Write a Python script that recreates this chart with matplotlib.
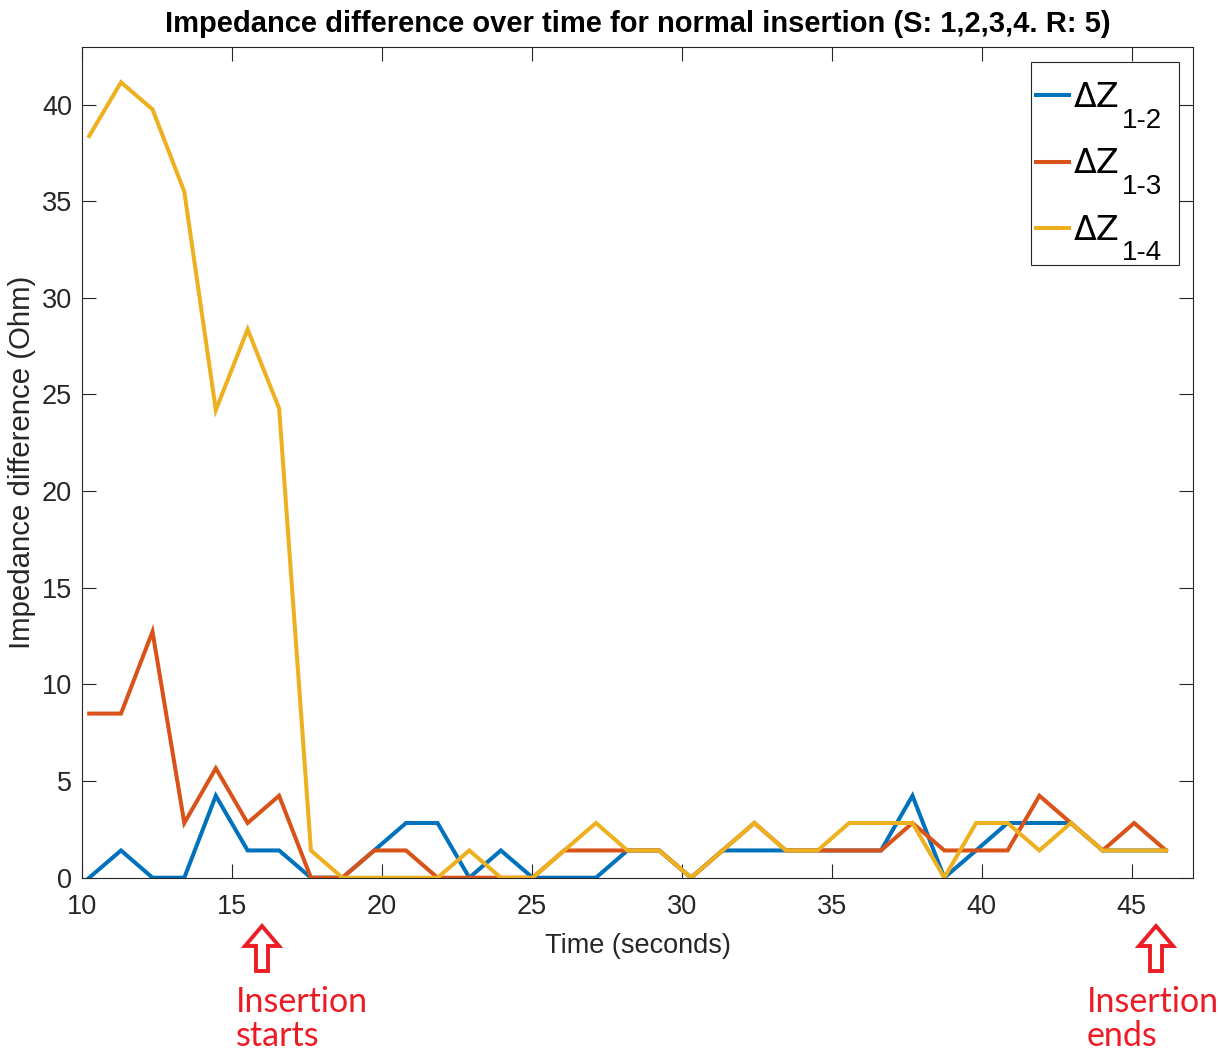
import matplotlib
matplotlib.use("Agg")
import matplotlib.pyplot as plt
from matplotlib.patches import Polygon, Rectangle

plt.rcParams['font.family'] = ['Liberation Sans', 'DejaVu Sans']

# ---------------- data ----------------
time_s = [10.25, 11.31, 12.36, 13.42, 14.47, 15.53, 16.58, 17.64, 18.69, 19.75,
          20.81, 21.86, 22.92, 23.97, 25.03, 26.08, 27.14, 28.19, 29.25, 30.31,
          31.36, 32.42, 33.47, 34.53, 35.58, 36.64, 37.69, 38.75, 39.81, 40.86,
          41.92, 42.97, 44.03, 45.08, 46.14]

dz_12 = [0, 1.41, 0, 0, 4.24, 1.41, 1.41, 0, 0, 1.41,
         2.83, 2.83, 0, 1.41, 0, 0, 0, 1.41, 1.41, 0,
         1.41, 1.41, 1.41, 1.41, 1.41, 1.41, 4.24, 0, 1.41, 2.83,
         2.83, 2.83, 1.41, 1.41, 1.41]

dz_13 = [8.49, 8.49, 12.73, 2.83, 5.66, 2.83, 4.24, 0, 0, 1.41,
         1.41, 0, 0, 0, 0, 1.41, 1.41, 1.41, 1.41, 0,
         1.41, 2.83, 1.41, 1.41, 1.41, 1.41, 2.83, 1.41, 1.41, 1.41,
         4.24, 2.83, 1.41, 2.83, 1.41]

dz_14 = [38.37, 41.15, 39.75, 35.49, 24.19, 28.37, 24.28, 1.41, 0, 0,
         0, 0, 1.41, 0, 0, 1.41, 2.83, 1.41, 1.41, 0,
         1.41, 2.83, 1.41, 1.41, 2.83, 2.83, 2.83, 0, 2.83, 2.83,
         1.41, 2.83, 1.41, 1.41, 1.41]

label_main = 'ΔZ'
label_subs = ['1-2', '1-3', '1-4']
colors = ['#0072BD', '#D95319', '#EDB120']
x_ticks = [10, 15, 20, 25, 30, 35, 40, 45]
y_ticks = [0, 5, 10, 15, 20, 25, 30, 35, 40]

# ---------------- figure ----------------
W, H = 1218, 1054
fig = plt.figure(figsize=(W / 100, H / 100), dpi=100)
ax = fig.add_axes([81.7 / W, 1 - 877.7 / H, (1193.3 - 81.7) / W, (877.7 - 47.3) / H])

handles = []
for series, c in zip([dz_12, dz_13, dz_14], colors):
    h, = ax.plot(time_s, series, color=c, lw=2.9, solid_joinstyle='miter')
    handles.append(h)

ax.set_xlim(10, 47.05)
ax.set_ylim(0, 42.96)
ax.set_xticks(x_ticks)
ax.set_yticks(y_ticks)

axc = '#262626'
for s in ax.spines.values():
    s.set_color(axc)
    s.set_linewidth(0.8)
ax.tick_params(direction='in', length=10, width=0.8, color=axc,
               top=True, right=True, labelsize=19.5, labelcolor=axc)
ax.tick_params(axis='x', pad=12)
ax.tick_params(axis='y', pad=7)

ax.set_xlabel('Time (seconds)', fontsize=19.5, color=axc, labelpad=9)
ax.set_ylabel('Impedance difference (Ohm)', fontsize=21.2, color=axc, labelpad=4)
ax.set_title('Impedance difference over time for normal insertion (S: 1,2,3,4. R: 5)',
             fontsize=21, fontweight='bold', pad=11)

# legend: handles + "ΔZ", subscripts added afterwards, frame drawn as box
leg_size = 24
leg = ax.legend(handles, [label_main] * 3, loc='upper left',
                bbox_to_anchor=(1021 / W, 1 - 66 / H), bbox_transform=fig.transFigure,
                prop={'family': 'DejaVu Sans', 'size': leg_size}, frameon=False,
                handlelength=1.0, handletextpad=0.12,
                borderaxespad=0, borderpad=0.45, labelspacing=1.0)
leg.set_zorder(6)
box = Rectangle((1031 / W, 1 - 265 / H), (1179.3 - 1031) / W, (265 - 61.7) / H,
                transform=fig.transFigure, facecolor='white',
                edgecolor=axc, lw=0.8, zorder=5, clip_on=False)
ax.add_patch(box)

fig.canvas.draw()
inv = fig.transFigure.inverted()
for t, sub in zip(leg.get_texts(), label_subs):
    bb = t.get_window_extent()
    x_px = bb.x1 + 3
    y_top = bb.y0 + 0.236 * leg_size * 100 / 72 - 1.5
    fx, fy = inv.transform((x_px, y_top))
    fig.text(fx, fy, sub, fontsize=20, color='black', ha='left', va='top', zorder=7)

# ---------------- annotations (red hollow arrows + text) ----------------
red = '#ED1C24'

def up_arrow(cx, top, bottom, head_w=34, head_h=20, shaft_w=12):
    pts = [(cx, top), (cx + head_w / 2, top + head_h), (cx + shaft_w / 2, top + head_h),
           (cx + shaft_w / 2, bottom), (cx - shaft_w / 2, bottom),
           (cx - shaft_w / 2, top + head_h), (cx - head_w / 2, top + head_h)]
    pts = [(x / W, 1 - y / H) for x, y in pts]
    fig.patches.append(Polygon(pts, closed=True, transform=fig.transFigure,
                               facecolor='white', edgecolor=red, lw=2.8,
                               joinstyle='miter'))

up_arrow(262, 926, 971)
up_arrow(1156, 926, 971)

for x0, words in [(236, ['Insertion', 'starts']), (1087, ['Insertion', 'ends'])]:
    for yb, w in zip([1012, 1046], words):
        fig.text(x0 / W, 1 - yb / H, w, color=red, fontsize=24.5,
                 family=['Lato', 'DejaVu Sans'], ha='left', va='baseline')

fig.savefig('out.png', dpi=100)
